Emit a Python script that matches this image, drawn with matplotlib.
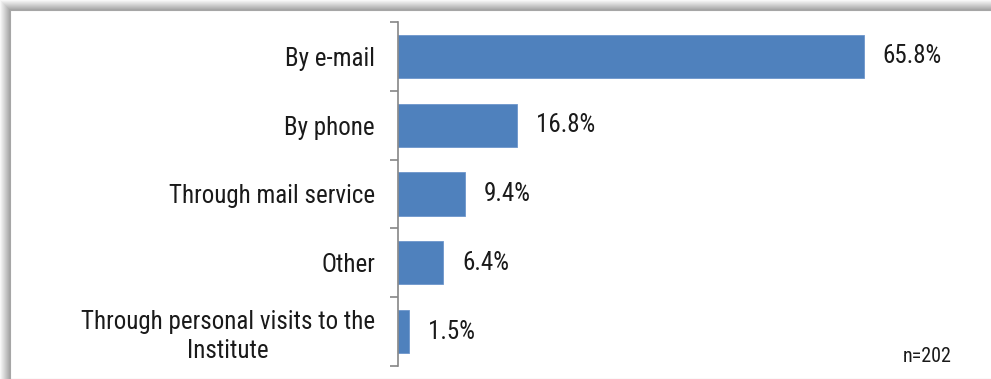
import matplotlib.pyplot as plt
from matplotlib.patches import Rectangle

plt.rcParams['font.family'] = ['Roboto Condensed', 'DejaVu Sans']

categories = ['By e-mail', 'By phone', 'Through mail service', 'Other',
              'Through personal visits to the\nInstitute']
shares = [65.8, 16.8, 9.4, 6.4, 1.5]
sample_note = 'n=202'

W, H = 991, 379
fig = plt.figure(figsize=(W / 100, H / 100), dpi=100)
fig.patch.set_facecolor('white')

# soft drop shadow along the top and left edges of the chart frame
for i in range(10):
    g = 0.97 - 0.035 * i
    fig.patches.append(Rectangle((i / W, 0), 1, (H - i) / H,
                                 transform=fig.transFigure,
                                 facecolor=(g, g, g), edgecolor='none', zorder=0))
fig.patches.append(Rectangle((10 / W, 0), 1, (H - 10) / H,
                             transform=fig.transFigure, facecolor='white',
                             edgecolor='#a6a6a6', linewidth=0.8, zorder=1))

ax = fig.add_axes([398 / W, 13 / H, 566 / W, 344 / H])
ax.set_facecolor('none')
ax.set_zorder(2)

y = range(len(categories))
ax.barh(y, shares, height=0.63, color='#4f81bd', edgecolor='#6d96cc', linewidth=0.6)
for yi, v in zip(y, shares):
    ax.text(v + 2.7, yi, f'{v:.1f}%', va='center', ha='left', fontsize=18, color='#1a1a1a')

ax.set_xlim(0, 80)
ax.set_ylim(len(categories) - 0.5, -0.5)

ax.set_yticks(list(y))
ax.set_yticklabels(categories, fontsize=18, color='#1a1a1a', linespacing=1.25)
for lab in ax.get_yticklabels():
    lab.set_multialignment('center')
ax.tick_params(axis='y', which='major', length=0, pad=16.5)
ax.set_yticks([i - 0.5 for i in range(len(categories) + 1)], minor=True)
ax.tick_params(axis='y', which='minor', length=6, width=1.2, color='#868686', direction='out')

ax.xaxis.set_visible(False)
for s in ['top', 'right', 'bottom']:
    ax.spines[s].set_visible(False)
ax.spines['left'].set_color('#868686')
ax.spines['left'].set_linewidth(1.2)

fig.text(927 / W, 1 - 356 / H, sample_note, ha='center', va='center',
         fontsize=14.5, color='#1a1a1a', zorder=3)

fig.savefig('out.png', dpi=100)
